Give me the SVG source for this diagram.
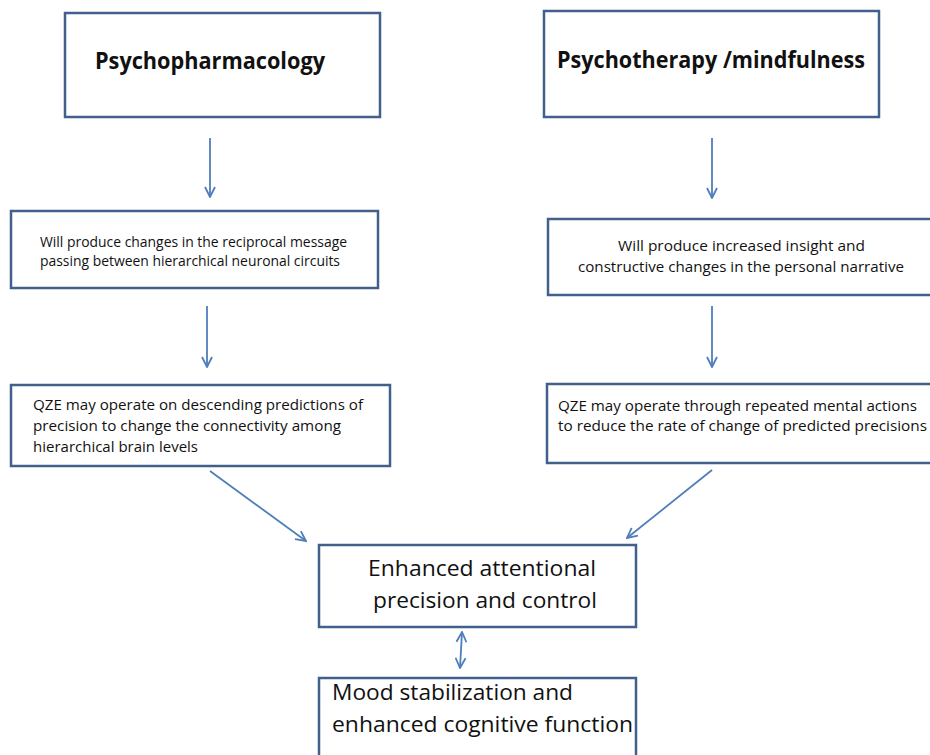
<svg xmlns="http://www.w3.org/2000/svg" width="930" height="755" viewBox="0 0 930 755">
<style>
.box{fill:#fff;stroke:#41608C;stroke-width:2.5}
.c{fill:none;stroke:#4F7EBA;stroke-width:1.8}
text{font-family:"Open Sans","Liberation Sans",sans-serif;fill:#111}
.h{font-size:22.5px;font-weight:bold}
.s{font-size:14px}
.m{font-size:15px}
.l{font-size:22.5px}
</style>
<defs>
<marker id="ah" viewBox="0 0 12 12" refX="11" refY="6" markerWidth="12" markerHeight="12" markerUnits="userSpaceOnUse" orient="auto-start-reverse">
<path d="M1,1 L11,6 L1,11" fill="none" stroke="#4F7EBA" stroke-width="1.8"/>
</marker>
</defs>
<rect width="930" height="755" fill="#fff"/>
<g id="n1"><rect class="box" x="65" y="13" width="315" height="104"/>
<text class="h" x="95" y="69" textLength="230" lengthAdjust="spacingAndGlyphs">Psychopharmacology</text></g>
<g id="n2"><rect class="box" x="544" y="11" width="335" height="106"/>
<text class="h" x="557" y="68" textLength="308" lengthAdjust="spacingAndGlyphs">Psychotherapy /mindfulness</text></g>
<g id="n3"><rect class="box" x="11" y="211" width="367" height="77"/>
<text class="s" x="40" y="247" textLength="307" lengthAdjust="spacingAndGlyphs">Will produce changes in the reciprocal message</text>
<text class="s" x="40" y="266" textLength="300" lengthAdjust="spacingAndGlyphs">passing between hierarchical neuronal circuits</text></g>
<g id="n4"><rect class="box" x="548" y="219" width="390" height="76"/>
<text class="s" x="618" y="251" textLength="247" lengthAdjust="spacingAndGlyphs">Will  produce increased insight and</text>
<text class="s" x="578" y="272" textLength="326" lengthAdjust="spacingAndGlyphs">constructive changes in the personal narrative</text></g>
<g id="n5"><rect class="box" x="11" y="385" width="379" height="81"/>
<text class="m" x="33" y="410" textLength="330" lengthAdjust="spacingAndGlyphs">QZE may operate on descending predictions of</text>
<text class="m" x="33" y="431" textLength="308" lengthAdjust="spacingAndGlyphs">precision to change the connectivity among</text>
<text class="m" x="33" y="452" textLength="165" lengthAdjust="spacingAndGlyphs">hierarchical brain levels</text></g>
<g id="n6"><rect class="box" x="547" y="384" width="390" height="79"/>
<text class="m" x="558" y="411" textLength="359" lengthAdjust="spacingAndGlyphs">QZE may operate through repeated mental actions</text>
<text class="m" x="558" y="431" textLength="369" lengthAdjust="spacingAndGlyphs">to reduce the rate of change of predicted precisions</text></g>
<g id="n7"><rect class="box" x="319" y="545" width="317" height="82"/>
<text class="l" x="368" y="576" textLength="228" lengthAdjust="spacingAndGlyphs">Enhanced attentional</text>
<text class="l" x="373" y="608" textLength="224" lengthAdjust="spacingAndGlyphs">precision and control</text></g>
<g id="n8"><rect class="box" x="319" y="678" width="317" height="82"/>
<text class="l" x="332" y="700" textLength="241" lengthAdjust="spacingAndGlyphs">Mood stabilization and</text>
<text class="l" x="332" y="732" textLength="301" lengthAdjust="spacingAndGlyphs">enhanced cognitive function</text></g>
<g id="connectors">
<line class="c" x1="210" y1="138" x2="210" y2="197" marker-end="url(#ah)"/>
<line class="c" x1="712" y1="138" x2="712" y2="198" marker-end="url(#ah)"/>
<line class="c" x1="207" y1="306" x2="207" y2="367" marker-end="url(#ah)"/>
<line class="c" x1="712" y1="306" x2="712" y2="367" marker-end="url(#ah)"/>
<line class="c" x1="210" y1="471" x2="306" y2="541" marker-end="url(#ah)"/>
<line class="c" x1="712" y1="470" x2="627" y2="538" marker-end="url(#ah)"/>
<line class="c" x1="462" y1="632" x2="460" y2="668" marker-start="url(#ah)" marker-end="url(#ah)"/>
</g>
</svg>
